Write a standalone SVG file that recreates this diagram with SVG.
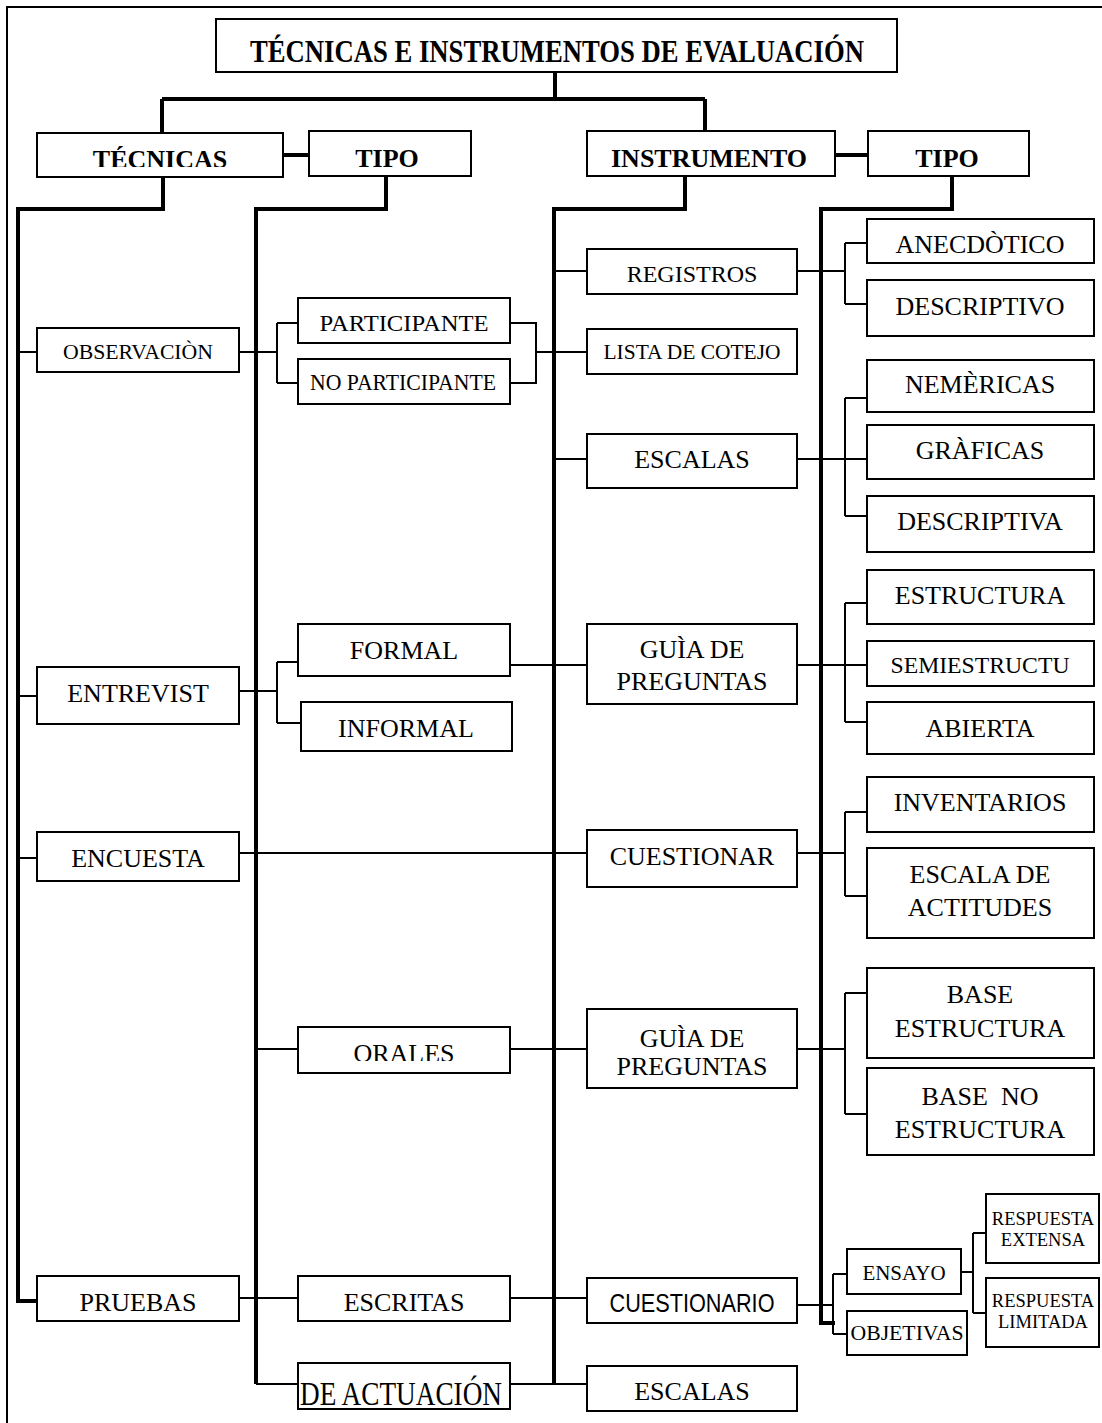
<svg xmlns="http://www.w3.org/2000/svg" width="1102" height="1423" viewBox="0 0 1102 1423">
  <style>
    .box { fill: #fff; stroke: #000; stroke-width: 2; }
    .t { font-family: "Liberation Serif", "Times New Roman", serif; font-size: 26px; text-anchor: middle; fill: #000; }
    .b { font-weight: bold; }
    .s { font-family: "Liberation Sans", Arial, sans-serif; }
    .f18 { font-size: 18.5px; }
    .f21 { font-size: 21px; }
    .f23 { font-size: 23px; }
    .f24 { font-size: 24px; }
    .ln { fill: none; stroke: #000; stroke-width: 2; }
    .tk { fill: none; stroke: #000; stroke-width: 4; stroke-linejoin: miter; }
  </style>
  <defs>
    <clipPath id="clipTec"><rect x="37" y="133" width="246" height="34"/></clipPath>
    <clipPath id="clipOra"><rect x="298" y="1027" width="212" height="34"/></clipPath>
  </defs>
  <rect width="1102" height="1423" fill="#fff"/>
  <!-- page frame -->
  <path class="ln" d="M7,1423 V7 H1102"/>

  <g id="connectors">
    <!-- trunk lines -->
    <path class="tk" d="M555,72 V99 M162,99 H705 M162,99 V133 M705,99 V131"/>
    <path class="tk" d="M283,155 H309 M835,155 H868"/>
    <path class="tk" d="M163,177 V209 H18 V1301 H37"/>
    <path class="tk" d="M386,176 V209 H256 V1384"/>
    <path class="tk" d="M685,176 V209 H554 V1385"/>
    <path class="tk" d="M952,176 V209 H821 V1323 H835"/>
    <!-- observación -->
    <path class="ln" d="M18,352 H37 M239,352 H277 M277,323 V383 M277,323 H298 M277,383 H298 M510,323 H536 V383 H510 M536,352 H587"/>
    <!-- registros -->
    <path class="ln" d="M554,271 H587 M797,271 H845 M845,243 V304 M845,243 H867 M845,304 H867"/>
    <!-- escalas -->
    <path class="ln" d="M554,459 H587 M797,459 H867 M845,398 V516 M845,398 H867 M845,516 H867"/>
    <!-- entrevista -->
    <path class="ln" d="M18,696 H37 M239,691 H277 M277,662 V723 M277,662 H298 M277,723 H301"/>
    <path class="ln" d="M510,665 H587 M797,665 H867 M845,603 V722 M845,603 H867 M845,722 H867"/>
    <!-- encuesta -->
    <path class="ln" d="M18,858 H37 M239,853 H587 M797,853 H845 M845,812 V896 M845,812 H867 M845,896 H867"/>
    <!-- orales -->
    <path class="ln" d="M256,1049 H298 M510,1049 H587 M797,1049 H845 M845,993 V1114 M845,993 H867 M845,1114 H867"/>
    <!-- pruebas -->
    <path class="ln" d="M239,1298 H298 M510,1298 H587 M797,1305 H833 M833,1274 V1334 M833,1274 H847 M833,1334 H847"/>
    <path class="ln" d="M961,1272 H973 M973,1233 V1313 M973,1233 H986 M973,1313 H986"/>
    <path class="ln" d="M256,1384 H298 M510,1384 H587"/>
  </g>

  <g id="title">
    <rect class="box" x="216" y="19" width="681" height="53"/>
    <text class="t b" x="557" y="62" style="font-size:32px" textLength="614" lengthAdjust="spacingAndGlyphs">TÉCNICAS E INSTRUMENTOS DE EVALUACIÓN</text>
  </g>

  <g id="tecnicas">
    <rect class="box" x="37" y="133" width="246" height="44"/>
    <text class="t b" x="160" y="168" clip-path="url(#clipTec)">TÉCNICAS</text>
  </g>
  <g id="tipo-tecnicas">
    <rect class="box" x="309" y="131" width="162" height="45"/>
    <text class="t b" x="387" y="167">TIPO</text>
  </g>
  <g id="instrumento">
    <rect class="box" x="587" y="131" width="248" height="45"/>
    <text class="t b" x="709" y="167">INSTRUMENTO</text>
  </g>
  <g id="tipo-instrumento">
    <rect class="box" x="868" y="131" width="161" height="45"/>
    <text class="t b" x="947" y="167">TIPO</text>
  </g>

  <!-- techniques -->
  <g id="observacion">
    <rect class="box" x="37" y="328" width="202" height="44"/>
    <text class="t f21" x="138" y="359" textLength="150" lengthAdjust="spacingAndGlyphs">OBSERVACIÒN</text>
  </g>
  <g id="entrevista">
    <rect class="box" x="37" y="667" width="202" height="57"/>
    <text class="t" x="138" y="702">ENTREVIST</text>
  </g>
  <g id="encuesta">
    <rect class="box" x="37" y="832" width="202" height="49"/>
    <text class="t" x="138" y="867">ENCUESTA</text>
  </g>
  <g id="pruebas">
    <rect class="box" x="37" y="1276" width="202" height="45"/>
    <text class="t" x="138" y="1311">PRUEBAS</text>
  </g>

  <!-- technique types -->
  <g id="participante">
    <rect class="box" x="298" y="298" width="212" height="45"/>
    <text class="t f23" x="404" y="331" textLength="169" lengthAdjust="spacingAndGlyphs">PARTICIPANTE</text>
  </g>
  <g id="no-participante">
    <rect class="box" x="298" y="359" width="212" height="45"/>
    <text class="t f23" x="403" y="390" textLength="186" lengthAdjust="spacingAndGlyphs">NO PARTICIPANTE</text>
  </g>
  <g id="formal">
    <rect class="box" x="298" y="624" width="212" height="52"/>
    <text class="t" x="404" y="659">FORMAL</text>
  </g>
  <g id="informal">
    <rect class="box" x="301" y="702" width="211" height="49"/>
    <text class="t" x="406" y="737">INFORMAL</text>
  </g>
  <g id="orales">
    <rect class="box" x="298" y="1027" width="212" height="46"/>
    <text class="t" x="404" y="1062" clip-path="url(#clipOra)">ORALES</text>
  </g>
  <g id="escritas">
    <rect class="box" x="298" y="1276" width="212" height="45"/>
    <text class="t" x="404" y="1311">ESCRITAS</text>
  </g>
  <g id="de-actuacion">
    <rect class="box" x="298" y="1363" width="212" height="46"/>
    <text class="t" x="401" y="1405" style="font-size:33px" textLength="202" lengthAdjust="spacingAndGlyphs">DE ACTUACIÓN</text>
  </g>

  <!-- instruments -->
  <g id="registros">
    <rect class="box" x="587" y="249" width="210" height="45"/>
    <text class="t f24" x="692" y="282">REGISTROS</text>
  </g>
  <g id="lista-cotejo">
    <rect class="box" x="587" y="329" width="210" height="45"/>
    <text class="t f21" x="692" y="359" textLength="177" lengthAdjust="spacingAndGlyphs">LISTA DE COTEJO</text>
  </g>
  <g id="escalas-1">
    <rect class="box" x="587" y="434" width="210" height="54"/>
    <text class="t" x="692" y="468">ESCALAS</text>
  </g>
  <g id="guia-1">
    <rect class="box" x="587" y="624" width="210" height="80"/>
    <text class="t" x="692" y="658">GUÌA DE</text>
    <text class="t" x="692" y="690">PREGUNTAS</text>
  </g>
  <g id="cuestionar">
    <rect class="box" x="587" y="830" width="210" height="57"/>
    <text class="t" x="692" y="865">CUESTIONAR</text>
  </g>
  <g id="guia-2">
    <rect class="box" x="587" y="1009" width="210" height="79"/>
    <text class="t" x="692" y="1047">GUÌA DE</text>
    <text class="t" x="692" y="1075">PREGUNTAS</text>
  </g>
  <g id="cuestionario">
    <rect class="box" x="587" y="1278" width="210" height="45"/>
    <text class="t s" x="692" y="1312" style="font-size:25px" textLength="165" lengthAdjust="spacingAndGlyphs">CUESTIONARIO</text>
  </g>
  <g id="escalas-2">
    <rect class="box" x="587" y="1366" width="210" height="45"/>
    <text class="t" x="692" y="1400">ESCALAS</text>
  </g>

  <!-- instrument types -->
  <g id="anecdotico">
    <rect class="box" x="867" y="219" width="227" height="44"/>
    <text class="t" x="980" y="253">ANECDÒTICO</text>
  </g>
  <g id="descriptivo">
    <rect class="box" x="867" y="280" width="227" height="56"/>
    <text class="t" x="980" y="315">DESCRIPTIVO</text>
  </g>
  <g id="numericas">
    <rect class="box" x="867" y="360" width="227" height="52"/>
    <text class="t" x="980" y="393">NEMÈRICAS</text>
  </g>
  <g id="graficas">
    <rect class="box" x="867" y="425" width="227" height="54"/>
    <text class="t" x="980" y="459">GRÀFICAS</text>
  </g>
  <g id="descriptiva">
    <rect class="box" x="867" y="496" width="227" height="56"/>
    <text class="t" x="980" y="530">DESCRIPTIVA</text>
  </g>
  <g id="estructura">
    <rect class="box" x="867" y="570" width="227" height="54"/>
    <text class="t" x="980" y="604">ESTRUCTURA</text>
  </g>
  <g id="semiestructura">
    <rect class="box" x="867" y="641" width="227" height="45"/>
    <text class="t f24" x="980" y="673" textLength="179" lengthAdjust="spacingAndGlyphs">SEMIESTRUCTU</text>
  </g>
  <g id="abierta">
    <rect class="box" x="867" y="702" width="227" height="52"/>
    <text class="t" x="980" y="737">ABIERTA</text>
  </g>
  <g id="inventarios">
    <rect class="box" x="867" y="777" width="227" height="55"/>
    <text class="t" x="980" y="811">INVENTARIOS</text>
  </g>
  <g id="escala-actitudes">
    <rect class="box" x="867" y="848" width="227" height="90"/>
    <text class="t" x="980" y="883">ESCALA DE</text>
    <text class="t" x="980" y="916">ACTITUDES</text>
  </g>
  <g id="base-estructura">
    <rect class="box" x="867" y="968" width="227" height="90"/>
    <text class="t" x="980" y="1003">BASE</text>
    <text class="t" x="980" y="1037">ESTRUCTURA</text>
  </g>
  <g id="base-no-estructura">
    <rect class="box" x="867" y="1068" width="227" height="87"/>
    <text class="t" x="980" y="1105">BASE&#160; NO</text>
    <text class="t" x="980" y="1138">ESTRUCTURA</text>
  </g>

  <!-- written test types -->
  <g id="ensayo">
    <rect class="box" x="847" y="1249" width="114" height="45"/>
    <text class="t f21" x="904" y="1280">ENSAYO</text>
  </g>
  <g id="objetivas">
    <rect class="box" x="847" y="1311" width="120" height="44"/>
    <text class="t f21" x="907" y="1340" textLength="113" lengthAdjust="spacingAndGlyphs">OBJETIVAS</text>
  </g>
  <g id="respuesta-extensa">
    <rect class="box" x="986" y="1194" width="113" height="69"/>
    <text class="t f18" x="1043" y="1225">RESPUESTA</text>
    <text class="t f18" x="1043" y="1246">EXTENSA</text>
  </g>
  <g id="respuesta-limitada">
    <rect class="box" x="986" y="1278" width="113" height="69"/>
    <text class="t f18" x="1043" y="1307">RESPUESTA</text>
    <text class="t f18" x="1043" y="1328">LIMITADA</text>
  </g>
</svg>
